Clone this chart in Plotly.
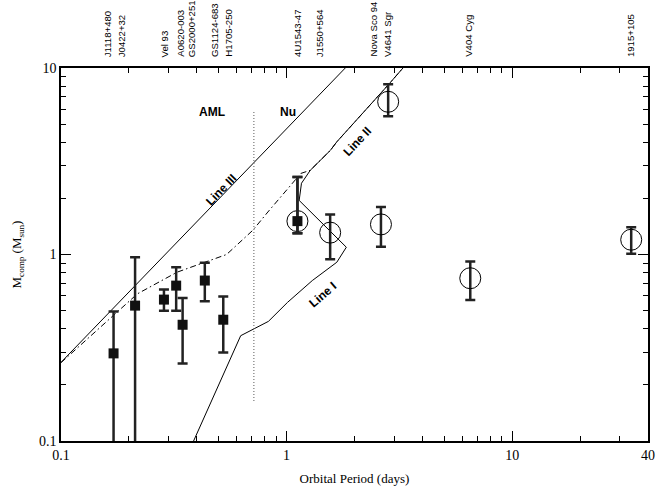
import numpy as np
import plotly.graph_objects as go

# ---- data ----
sq_period = [0.171, 0.213, 0.286, 0.324, 0.346, 0.434, 0.524, 1.117]
sq_mass   = [0.295, 0.532, 0.573, 0.681, 0.420, 0.725, 0.447, 1.51]
sq_hi     = [0.495, 0.967, 0.649, 0.855, 0.585, 0.902, 0.595, 2.60]
sq_lo     = [0.05, 0.05, 0.50, 0.50, 0.26, 0.561, 0.298, 1.30]

ci_period = [1.117, 1.56, 2.62, 2.82, 6.52, 33.7]
ci_mass   = [1.51, 1.31, 1.45, 6.59, 0.746, 1.20]
ci_hi     = [2.60, 1.64, 1.80, 8.17, 0.917, 1.40]
ci_lo     = [1.30, 0.943, 1.10, 5.52, 0.571, 1.01]

line3_p = [0.1, 1.82]
line3_m = [0.264, 10.0]

line12_p = [0.387, 0.626, 0.831, 1.01, 1.30, 1.67, 1.84, 1.137, 1.164, 1.274, 1.564, 1.67, 2.82, 3.28]
line12_m = [0.1, 0.367, 0.438, 0.554, 0.725, 0.909, 1.094, 1.95, 2.41, 2.83, 3.62, 4.02, 8.11, 10.0]

dd_p = [0.1, 0.167, 0.218, 0.327, 0.542, 0.709, 0.826, 1.156, 1.274, 1.564, 1.67, 2.82, 3.28]
dd_m = [0.263, 0.457, 0.615, 0.804, 1.0, 1.35, 1.69, 2.72, 2.83, 3.62, 4.02, 8.11, 10.0]

div_p = [0.716, 0.716]
div_m = [0.164, 5.82]

top_names = ["J1118+480", "J0422+32", "Vel 93", "A0620-003", "GS2000+251",
             "GS1124-683", "H1705-250", "4U1543-47", "J1550+564",
             "Nova Sco 94", "V4641 Sgr", "V404 Cyg", "1915+105"]
top_pos = [0.162, 0.187, 0.286, 0.338, 0.380, 0.482, 0.551, 1.118, 1.41,
           2.43, 2.82, 6.43, 33.5]

x_ticks = [0.1, 1, 10, 40]
x_ticktext = ["0.1", "1", "10", "40"]
y_ticks = [0.1, 1, 10]
y_ticktext = ["0.1", "1", "10"]

def errs(m, hi, lo):
    return [h - v for h, v in zip(hi, m)], [v - l for v, l in zip(m, lo)]

sq_p, sq_m = errs(sq_mass, sq_hi, sq_lo)
ci_pl, ci_mi = errs(ci_mass, ci_hi, ci_lo)

fig = go.Figure()
fig.add_trace(go.Scatter(x=line3_p, y=line3_m, mode="lines",
                         line=dict(color="black", width=1)))
fig.add_trace(go.Scatter(x=dd_p, y=dd_m, mode="lines",
                         line=dict(color="black", width=1, dash="6px,3px,1.5px,3px")))
fig.add_trace(go.Scatter(x=line12_p, y=line12_m, mode="lines",
                         line=dict(color="black", width=1)))
fig.add_trace(go.Scatter(x=div_p, y=div_m, mode="lines",
                         line=dict(color="#777777", width=1.2, dash="1px,2px")))
fig.add_trace(go.Scatter(x=ci_period, y=ci_mass, mode="markers",
                         marker=dict(symbol="circle-open", size=21, color="black",
                                     line=dict(width=1, color="black")),
                         error_y=dict(type="data", array=ci_pl, arrayminus=ci_mi,
                                      color="#222222", thickness=2.5, width=5)))
fig.add_trace(go.Scatter(x=sq_period, y=sq_mass, mode="markers",
                         marker=dict(symbol="square", size=10, color="#111111"),
                         error_y=dict(type="data", array=sq_p, arrayminus=sq_m,
                                      color="#222222", thickness=2.5, width=5)))

serif = "Liberation Serif, Times New Roman, serif"
sans = "Liberation Sans, Arial, sans-serif"

ann = []
for name, p in zip(top_names, top_pos):
    ann.append(dict(x=np.log10(p), y=1.027, xref="x", yref="paper", text=name,
                    textangle=-90, showarrow=False, xanchor="center", yanchor="bottom",
                    borderpad=0, font=dict(family=sans, size=9.6, color="black")))

def lab(text, p, m, angle=0):
    return dict(x=np.log10(p), y=np.log10(m), xref="x", yref="y", text=text,
                textangle=angle, showarrow=False, xanchor="center", yanchor="middle",
                font=dict(family=sans, size=12, color="black"))

ann += [lab("<b>AML</b>", 0.469, 5.82), lab("<b>Nu</b>", 1.01, 5.82),
        lab("<b>Line III</b>", 0.511, 2.23, -46), lab("<b>Line II</b>", 2.07, 4.05, -47),
        lab("<b>Line I</b>", 1.44, 0.609, -41)]

minor_x = [0.2, 0.3, 0.4, 0.5, 0.6, 0.7, 0.8, 0.9, 2, 3, 4, 5, 6, 7, 8, 9, 20, 30]
minor_y = [0.2, 0.3, 0.4, 0.5, 0.6, 0.7, 0.8, 0.9, 2, 3, 4, 5, 6, 7, 8, 9]

fig.update_layout(
    width=660, height=492, showlegend=False,
    paper_bgcolor="white", plot_bgcolor="white",
    margin=dict(l=61, r=5, t=68, b=51),
    annotations=ann,
    xaxis=dict(type="log", range=[-1, np.log10(40)], tickvals=x_ticks, ticktext=x_ticktext,
               ticks="inside", ticklen=10, tickwidth=1.2, tickcolor="black",
               showline=True, linecolor="black", linewidth=1.5, mirror="ticks",
               showgrid=False, zeroline=False,
               tickfont=dict(family=serif, size=14, color="black"),
               minor=dict(tickvals=minor_x, ticks="inside", ticklen=5, tickcolor="black",
                          tickwidth=1, showgrid=False),
               title=dict(text="Orbital Period (days)", standoff=12,
                          font=dict(family=serif, size=13, color="black"))),
    yaxis=dict(type="log", range=[-1, 1], tickvals=y_ticks, ticktext=y_ticktext,
               ticks="inside", ticklen=10, tickwidth=1.2, tickcolor="black",
               showline=True, linecolor="black", linewidth=1.5, mirror="ticks",
               showgrid=False, zeroline=False,
               tickfont=dict(family=serif, size=14, color="black"),
               minor=dict(tickvals=minor_y, ticks="inside", ticklen=5, tickcolor="black",
                          tickwidth=1, showgrid=False),
               title=dict(text="M<sub>comp</sub> (M<sub>sun</sub>)", standoff=14,
                          font=dict(family=serif, size=13, color="black"))),
)

fig.write_html("out.html")
